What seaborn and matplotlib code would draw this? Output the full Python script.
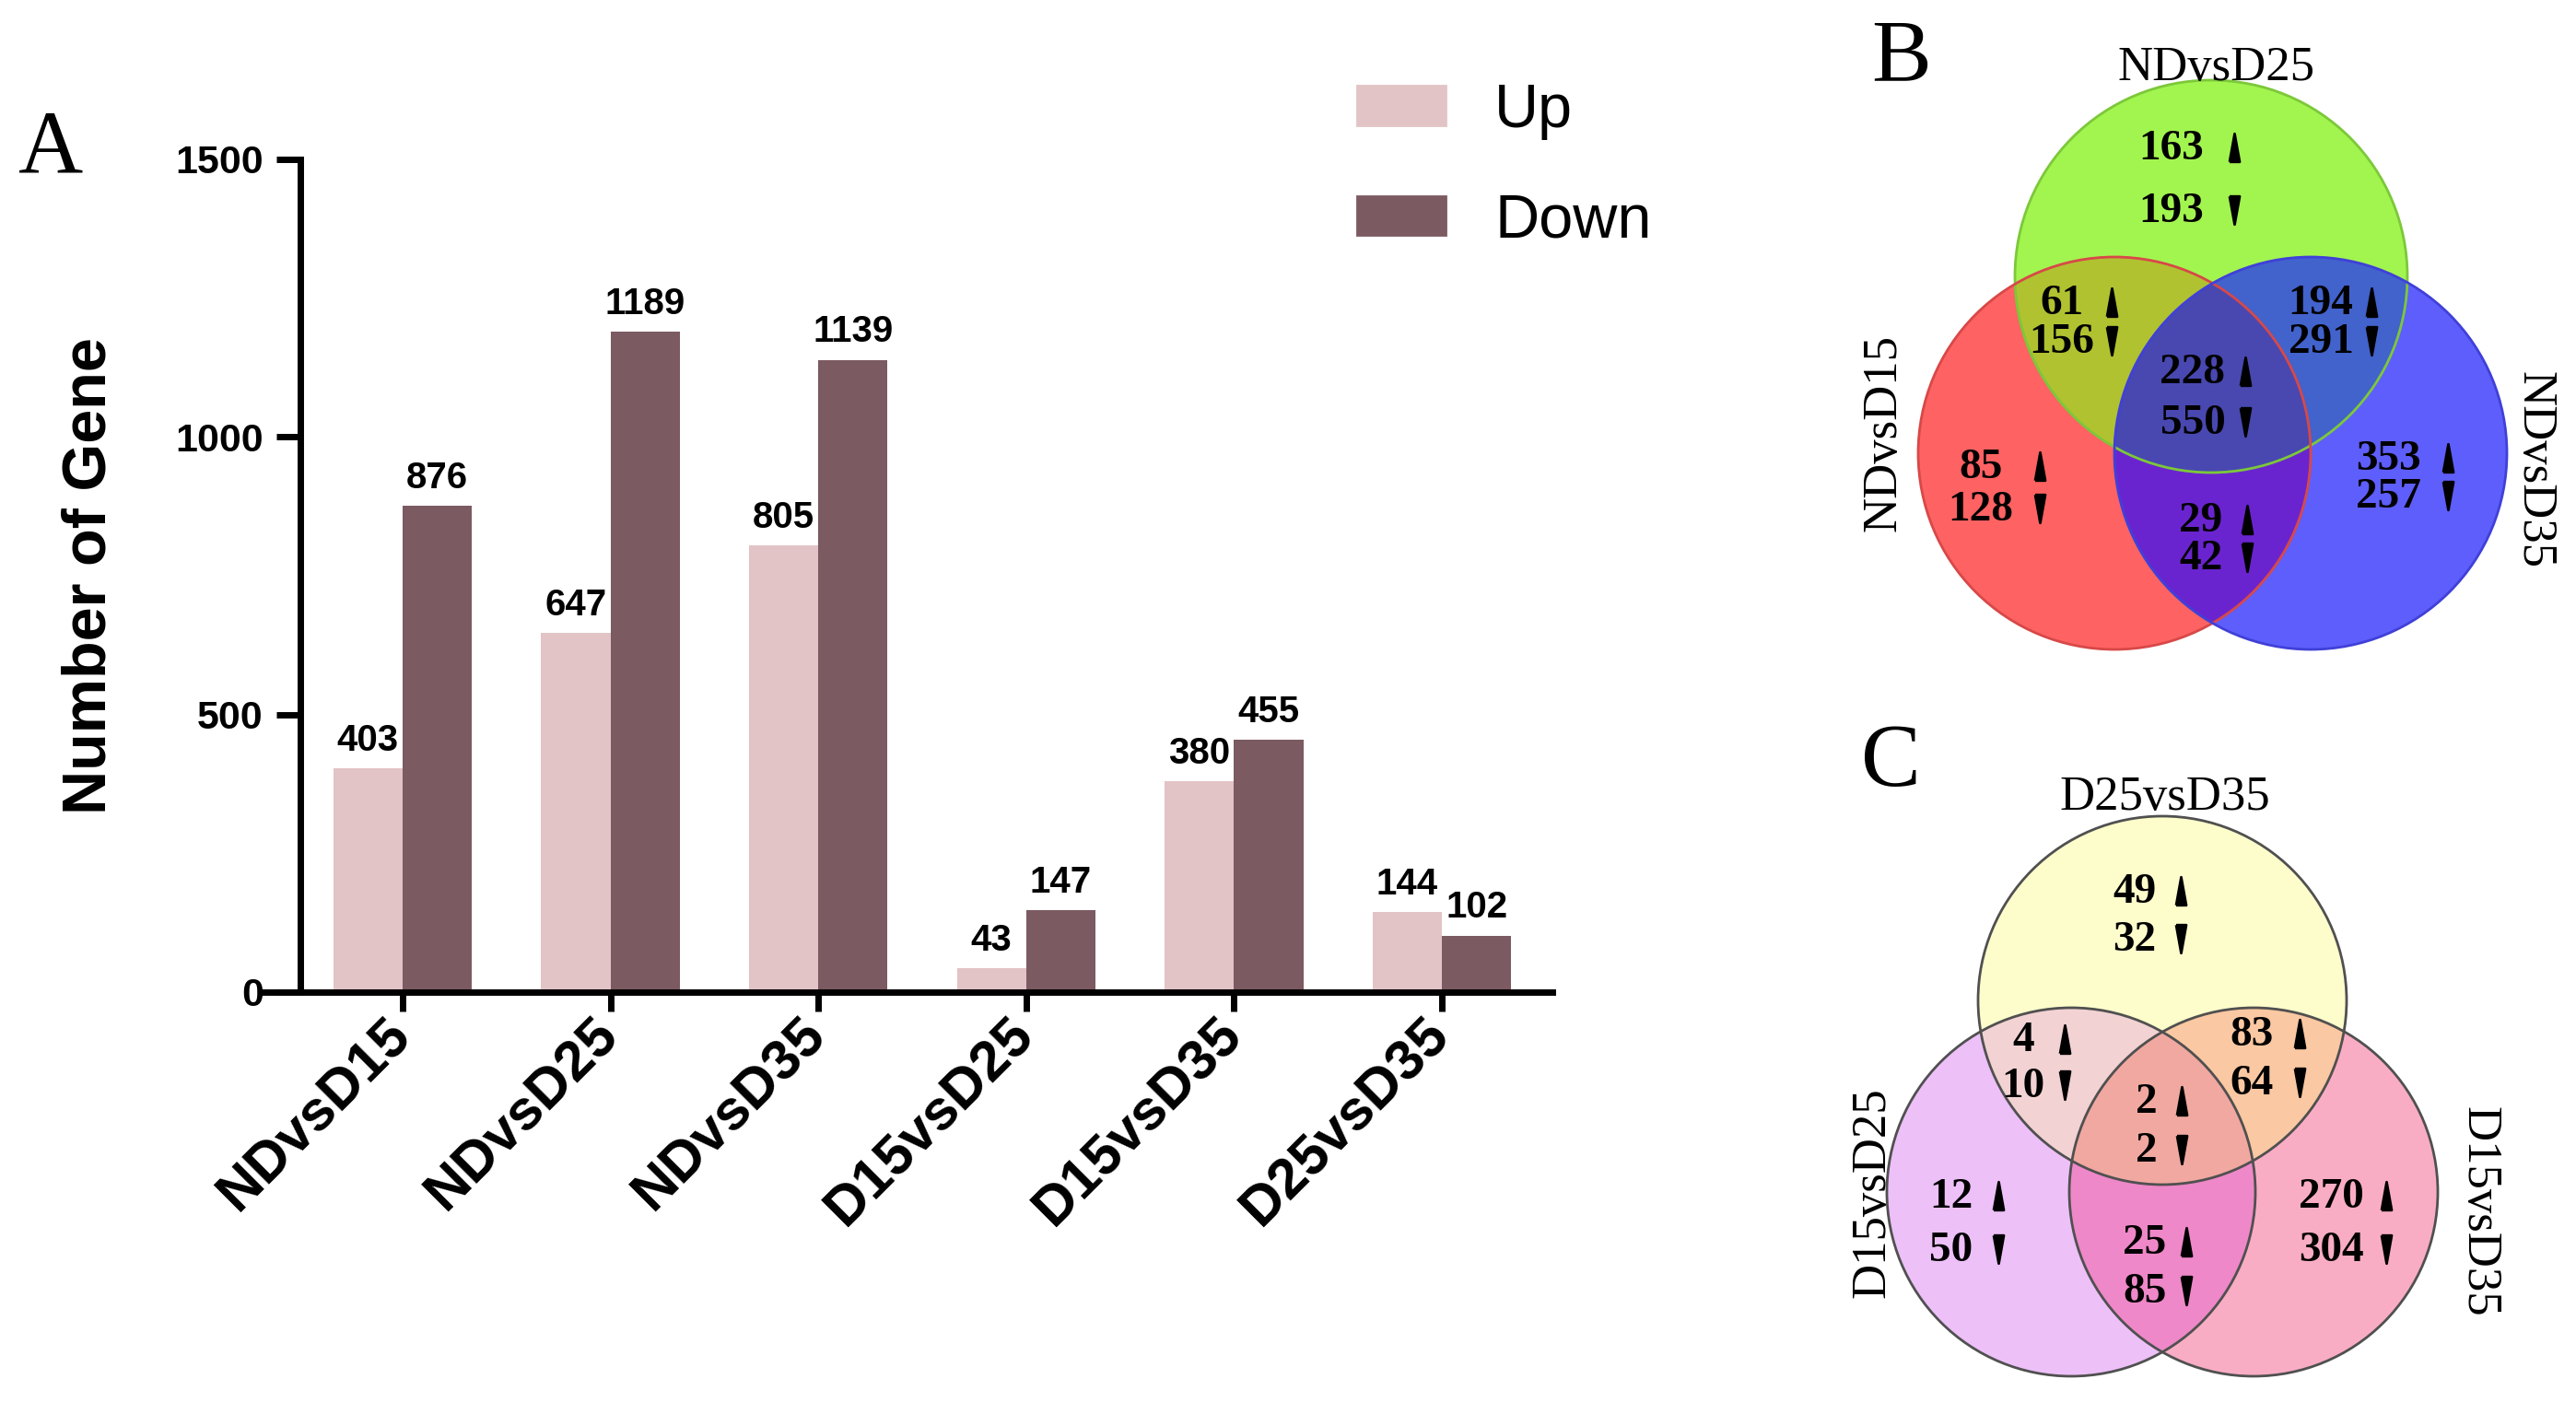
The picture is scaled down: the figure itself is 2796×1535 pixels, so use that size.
import numpy as np
import pandas as pd
import matplotlib
matplotlib.use("Agg")
import matplotlib.pyplot as plt
import matplotlib.patches as mpatches
import seaborn as sns

# ---------------- data ----------------
categories = ["NDvsD15", "NDvsD25", "NDvsD35", "D15vsD25", "D15vsD35", "D25vsD35"]
up_counts = [403, 647, 805, 43, 380, 144]
down_counts = [876, 1189, 1139, 147, 455, 102]
series_names = ["Up", "Down"]
y_ticks = [0, 500, 1000, 1500]

# Venn regions order: top, top_left, top_right, center, left, left_right, right
venn_region_names = ["top", "top_left", "top_right", "center", "left", "left_right", "right"]
venn_b_sets = ["NDvsD25", "NDvsD15", "NDvsD35"]          # top, left, right circle
venn_b_up = [163, 61, 194, 228, 85, 29, 353]
venn_b_down = [193, 156, 291, 550, 128, 42, 257]
venn_c_sets = ["D25vsD35", "D15vsD25", "D15vsD35"]
venn_c_up = [49, 4, 83, 2, 12, 25, 270]
venn_c_down = [32, 10, 64, 2, 50, 85, 304]

# ---------------- style ----------------
sns.set_style("ticks")
plt.rcParams["font.family"] = ["Liberation Sans", "DejaVu Sans"]
for k in ["text.color", "axes.labelcolor", "xtick.color", "ytick.color", "axes.edgecolor"]:
    plt.rcParams[k] = "black"
SERIF = ["Liberation Serif", "DejaVu Serif"]
UP_C, DOWN_C = "#E2C3C6", "#7B5A61"

W, H, DPI = 2796, 1535, 200
fig = plt.figure(figsize=(W / DPI, H / DPI), dpi=DPI)

# ---------------- panel A: bar chart ----------------
ax = fig.add_axes([285 / W, 1 - 1077 / H, 1400 / W, (1077 - 173) / H])
df = pd.DataFrame({
    "Comparison": categories * 2,
    "Regulation": ["Up"] * len(categories) + ["Down"] * len(categories),
    "Count": up_counts + down_counts,
})
sns.barplot(data=df, x="Comparison", y="Count", hue="Regulation",
            order=categories, hue_order=series_names,
            palette={"Up": UP_C, "Down": DOWN_C}, saturation=1,
            width=0.667, ax=ax, legend=False, edgecolor="none")
for cont in ax.containers:
    ax.bar_label(cont, fontsize=14.5, fontweight="bold", padding=4, color="black")

ax.set_xlim(-0.674, 5.532)
ax.set_ylim(0, 1500)
ax.set_yticks(y_ticks)
for s in ["top", "right"]:
    ax.spines[s].set_visible(False)
for s in ["left", "bottom"]:
    ax.spines[s].set_linewidth(2.5)
    ax.spines[s].set_color("black")
ax.spines["left"].set_position(("data", -0.492))
ax.spines["left"].set_bounds(0, 1500)
ax.tick_params(axis="y", length=9.5, width=2.5, labelsize=15.5, pad=5, colors="black")
ax.tick_params(axis="x", length=7.5, width=2.5, labelsize=22, pad=6, colors="black")
for t in ax.get_yticklabels():
    t.set_fontweight("bold")
ax.set_xticks(range(len(categories)))
ax.set_xticklabels(categories, rotation=45, ha="right", va="center",
                   rotation_mode="anchor", fontweight="bold")
ax.set_xlabel("")
ax.set_ylabel("Number of Gene", fontsize=24, fontweight="bold", color="black")
ax.yaxis.set_label_coords(-0.112, 0.5)

handles = [mpatches.Patch(color=UP_C), mpatches.Patch(color=DOWN_C)]
fig.legend(handles, series_names, loc="upper left", bbox_to_anchor=(1473 / W, 1 - 90 / H),
           frameon=False, fontsize=24, handlelength=1.44, handleheight=0.6,
           handletextpad=0.8, labelspacing=0.86, borderpad=0, borderaxespad=0)

# ---------------- overlay axes for panel letters and Venn diagrams ----------------
ov = fig.add_axes([0, 0, 1, 1], facecolor="none")
ov.set_xlim(0, W)
ov.set_ylim(H, 0)
ov.axis("off")


def inter_polygon(centers, r, n=2000):
    centers = np.asarray(centers, float)
    t = np.linspace(0, 2 * np.pi, n, endpoint=False)
    pts = []
    for c in centers:
        ring = np.column_stack([c[0] + r * np.cos(t), c[1] + r * np.sin(t)])
        ok = np.ones(n, bool)
        for d in centers:
            ok &= np.hypot(ring[:, 0] - d[0], ring[:, 1] - d[1]) <= r + 1e-6
        pts.append(ring[ok])
    pts = np.vstack(pts)
    cen = pts.mean(axis=0)
    ang = np.arctan2(pts[:, 1] - cen[1], pts[:, 0] - cen[0])
    return pts[np.argsort(ang)]


UP_VERTS = [(-0.36, -1), (0.36, -1), (0, 1), (-0.36, -1)]
DOWN_VERTS = [(-0.36, 1), (0.36, 1), (0, -1), (-0.36, 1)]


def draw_venn(centers, r, single_cols, pair_cols, center_col, edge_cols, edge_lw,
              set_labels, label_pos, ups, downs, text_pos, num_size, label_size):
    for c, col in zip(centers, single_cols):
        ov.add_patch(mpatches.Circle(c, r, fc=col, ec="none", zorder=1))
    for (i, j), col in zip([(0, 1), (0, 2), (1, 2)], pair_cols):
        ov.add_patch(mpatches.Polygon(inter_polygon([centers[i], centers[j]], r),
                                      closed=True, fc=col, ec="none", zorder=2))
    ov.add_patch(mpatches.Polygon(inter_polygon(centers, r), closed=True,
                                  fc=center_col, ec="none", zorder=3))
    for c, ec in zip(centers, edge_cols):
        ov.add_patch(mpatches.Circle(c, r, fill=False, ec=ec, lw=edge_lw, zorder=4))
    for lab, (x, y, rot) in zip(set_labels, label_pos):
        ov.text(x, y, lab, ha="center", va="center", rotation=rot, fontsize=label_size,
                family=SERIF, zorder=6)
    for u, d, (xn, yu, yd, xa) in zip(ups, downs, text_pos):
        ov.text(xn, yu, str(u), ha="center", va="center", fontsize=num_size,
                fontweight="bold", family=SERIF, zorder=6)
        ov.text(xn, yd, str(d), ha="center", va="center", fontsize=num_size,
                fontweight="bold", family=SERIF, zorder=6)
        ov.plot([xa], [yu - 2], marker=UP_VERTS, ms=11, color="black", ls="none", zorder=6)
        ov.plot([xa], [yd - 2], marker=DOWN_VERTS, ms=11, color="black", ls="none", zorder=6)


# panel letters
for letter, (x, y) in zip(["A", "B", "C"], [(55, 163), (2064, 65), (2052, 830)]):
    ov.text(x, y, letter, ha="center", va="center", fontsize=35, family=SERIF)

# Panel B
b_centers = [(2400, 300), (2295, 492), (2508, 492)]
b_text_pos = [(2357, 162, 230, 2425), (2238, 330, 372, 2292), (2519, 330, 372, 2574),
              (2380, 405, 460, 2437), (2150, 508, 554, 2214), (2389, 566, 607, 2439),
              (2592, 499, 540, 2657)]
draw_venn(b_centers, 213,
          single_cols=["#A2F44F", "#FF6262", "#5E5EFC"],
          pair_cols=["#B0C230", "#4262CC", "#6A24CF"],
          center_col="#4848B0",
          edge_cols=["#7CC83A", "#D84848", "#4040D8"], edge_lw=1.0,
          set_labels=venn_b_sets,
          label_pos=[(2405, 74, 0), (2044, 470, 90), (2750, 510, -90)],
          ups=venn_b_up, downs=venn_b_down, text_pos=b_text_pos, num_size=17,
          label_size=19)

# Panel C
c_centers = [(2347, 1086), (2248, 1294), (2446, 1294)]
c_text_pos = [(2317, 969, 1021, 2367), (2196, 1130, 1180, 2241), (2444, 1124, 1177, 2496),
              (2330, 1197, 1250, 2368), (2118, 1300, 1358, 2169), (2328, 1350, 1403, 2373),
              (2530, 1300, 1358, 2590)]
draw_venn(c_centers, 200,
          single_cols=["#FDFCCB", "#EDC0F8", "#F9ADC4"],
          pair_cols=["#F2D2D2", "#FAC8A2", "#EE88C8"],
          center_col="#F0A8A0",
          edge_cols=["#505050"] * 3, edge_lw=1.0,
          set_labels=venn_c_sets,
          label_pos=[(2350, 866, 0), (2032, 1295, 90), (2690, 1315, -90)],
          ups=venn_c_up, downs=venn_c_down, text_pos=c_text_pos, num_size=17,
          label_size=19)

fig.savefig("out.png", dpi=DPI)
